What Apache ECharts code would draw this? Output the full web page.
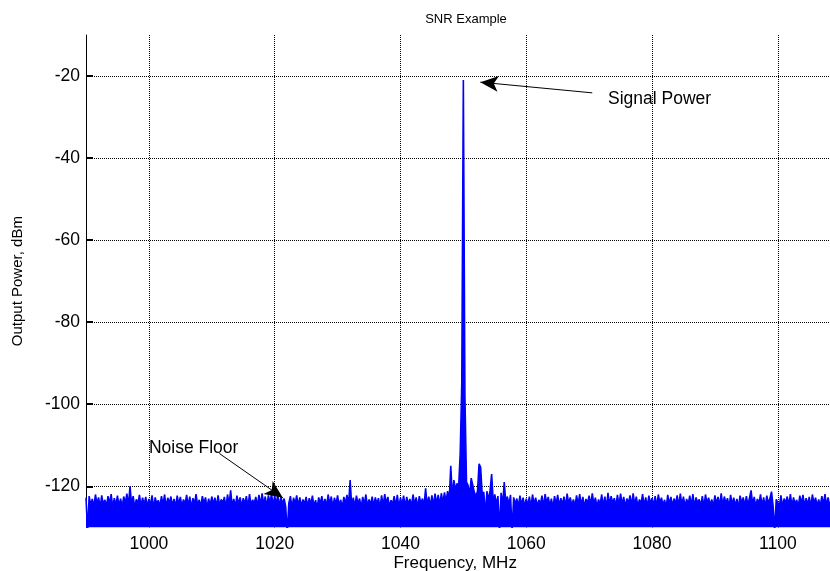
<!DOCTYPE html>
<html>
<head>
<meta charset="utf-8">
<title>SNR Example</title>
<script src="https://cdn.jsdelivr.net/npm/echarts@6/dist/echarts.min.js"></script>
<style>
  html, body { margin: 0; padding: 0; background: #ffffff; }
  #chart { width: 830px; height: 571px; }
</style>
</head>
<body>
<div id="chart"></div>
<script>
// Spectrum bins: first bin frequency and bin spacing (MHz)
const freqStart = 990;
const freqStep = 0.25;

// Measured output power per bin (dBm), 20 bins (5 MHz) per row
const powerDbm = [
  -122.8, -131.0, -122.4, -124.6, -123.1, -125.0, -122.0, -124.3, -122.7, -125.2, -122.2, -124.5, -123.3, -124.9, -122.4, -124.2, -121.9, -125.1, -122.9, -124.6,
  -122.3, -124.8, -123.0, -125.0, -122.5, -124.1, -121.8, -124.7, -120.0, -124.4, -122.4, -125.2, -123.2, -124.2, -122.1, -124.9, -122.8, -124.5, -122.6, -125.0,
  -123.1, -124.6, -122.2, -125.3, -122.7, -124.3, -123.4, -125.0, -122.4, -124.4, -122.0, -125.1, -122.8, -124.1, -122.5, -124.8, -123.1, -125.1, -122.3, -124.5,
  -122.6, -124.9, -123.2, -124.4, -122.1, -124.8, -122.5, -125.3, -122.9, -124.3, -121.9, -124.7, -123.3, -125.0, -122.4, -124.2, -122.7, -125.2, -123.0, -124.6,
  -122.5, -124.4, -122.8, -125.0, -122.2, -124.8, -123.2, -124.1, -122.6, -125.2, -122.0, -124.4, -121.0, -124.9, -123.1, -125.0, -122.3, -124.5, -122.7, -124.9,
  -122.9, -124.3, -122.4, -125.1, -121.9, -124.7, -123.3, -124.2, -122.6, -124.9, -122.1, -124.6, -121.7, -124.4, -122.5, -125.0, -122.2, -124.1, -121.8, -124.8,
  -122.3, -124.5, -121.9, -125.1, -122.6, -124.4, -123.0, -124.9, -131.5, -124.1, -122.4, -125.2, -122.8, -124.3, -122.2, -124.8, -122.7, -124.9, -123.2, -124.4,
  -122.6, -125.0, -122.9, -124.4, -122.3, -124.9, -123.4, -125.3, -122.7, -124.2, -122.4, -124.7, -123.1, -124.9, -122.0, -124.4, -122.5, -125.1, -122.8, -124.5,
  -122.2, -124.8, -123.3, -125.2, -122.6, -124.1, -122.1, -124.6, -118.5, -124.9, -122.8, -125.0, -122.3, -124.3, -123.0, -125.2, -122.6, -124.4, -122.0, -124.9,
  -123.2, -124.5, -122.5, -124.9, -122.7, -124.3, -122.9, -125.3, -122.2, -124.7, -121.9, -124.2, -122.6, -125.0, -123.4, -124.4, -122.4, -124.9, -122.1, -125.1,
  -122.8, -124.6, -122.3, -125.0, -122.6, -124.4, -123.1, -124.9, -122.0, -124.5, -122.7, -125.2, -122.4, -124.3, -123.0, -124.8, -120.5, -124.7, -122.5, -124.9,
  -122.2, -124.8, -121.8, -124.3, -122.1, -124.6, -121.7, -124.0, -121.5, -123.8, -121.2, -123.6, -115.0, -122.6, -118.5, -120.8, -119.3, -120.2, -112.0, -95.0,
  -21.0, -98.0, -119.0, -119.8, -122.0, -118.0, -117.6, -121.5, -122.4, -121.2, -114.5, -115.4, -122.0, -121.4, -127.0, -121.2, -123.4, -121.0, -117.0, -123.8,
  -122.0, -124.4, -122.4, -131.0, -121.6, -124.6, -119.0, -123.9, -122.5, -124.6, -122.1, -131.0, -122.7, -124.4, -123.0, -124.9, -122.3, -124.6, -122.8, -125.0,
  -123.0, -124.7, -122.5, -125.1, -122.0, -124.3, -122.8, -124.9, -123.3, -124.4, -122.3, -125.0, -121.9, -124.1, -122.6, -124.8, -123.0, -125.2, -122.4, -124.4,
  -122.1, -124.9, -122.9, -124.5, -122.5, -125.0, -121.8, -124.2, -122.7, -124.7, -123.2, -124.9, -122.2, -124.4, -121.9, -124.8, -122.6, -125.1, -123.1, -124.1,
  -122.3, -124.6, -121.7, -124.3, -122.8, -125.0, -123.2, -124.5, -122.0, -124.9, -122.5, -125.2, -121.6, -124.4, -122.4, -124.1, -122.9, -124.9, -122.1, -124.7,
  -121.8, -124.4, -122.6, -125.0, -123.0, -124.2, -122.2, -124.8, -121.7, -124.5, -122.5, -124.9, -123.2, -124.3, -121.9, -124.8, -122.7, -125.1, -122.3, -124.3,
  -122.9, -124.7, -122.4, -125.0, -122.0, -124.1, -122.8, -124.6, -123.3, -125.2, -122.1, -124.4, -122.6, -124.8, -123.0, -124.3, -122.2, -124.9, -121.8, -124.5,
  -122.5, -125.0, -123.1, -124.4, -122.3, -124.8, -121.9, -125.0, -122.7, -124.1, -123.2, -124.7, -122.4, -125.1, -122.0, -124.2, -122.8, -124.6, -123.2, -124.9,
  -122.2, -124.3, -122.6, -124.9, -121.7, -124.7, -122.5, -124.2, -122.9, -125.0, -122.1, -124.5, -122.8, -124.8, -123.1, -125.2, -122.3, -124.1, -122.7, -124.8,
  -122.4, -124.6, -124.2, -121.0, -124.4, -122.6, -125.0, -123.1, -124.3, -122.0, -124.8, -122.7, -125.1, -122.3, -124.2, -122.9, -121.3, -124.7, -131.0, -123.2,
  -122.8, -124.8, -122.2, -125.1, -123.0, -124.1, -122.5, -124.7, -121.9, -124.9, -122.7, -124.4, -123.3, -125.0, -122.3, -124.3, -122.1, -124.9, -122.9, -124.5,
  -122.6, -125.1, -122.0, -124.2, -122.8, -124.8, -123.2, -124.9, -122.4, -124.4, -121.9, -124.7, -122.7, -125.0, -123.1, -124.2, -122.3, -124.8, -122.5, -124.6,
  -122.8
];

// Axis ranges and tick labels
const freqRange = [990, 1108.3];
const powerRange = [-130, -10];
const freqTicks = [1000, 1020, 1040, 1060, 1080, 1100];
const powerTicks = [-120, -100, -80, -60, -40, -20];

// Annotations: text, text anchor, arrow tail, arrow head (data coordinates)
const notes = [
  { text: 'Signal Power', at: [1073.0, -25.7], tail: [1070.5, -24.1], head: [1052.7, -21.5] },
  { text: 'Noise Floor',  at: [1000.0, -110.8], tail: [1011.2, -112.0], head: [1021.3, -122.8] }
];

const spectrum = powerDbm.map((p, i) => [freqStart + i * freqStep, p]);

const FONT = '"Liberation Sans", Arial, Helvetica, sans-serif';
const gridLine = { show: true, lineStyle: { color: '#000000', width: 1, type: [1, 1] } };

const chart = echarts.init(document.getElementById('chart'), null, { renderer: 'canvas' });

chart.setOption({
  animation: false,
  backgroundColor: '#ffffff',
  title: {
    text: 'SNR Example',
    left: 461,
    top: 8,
    textAlign: 'center',
    textStyle: { fontFamily: FONT, fontSize: 13, fontWeight: 'normal', color: '#000000' }
  },
  grid: { left: 86, top: 35, right: 0, height: 492.3, containLabel: false },
  xAxis: {
    type: 'value',
    min: freqRange[0],
    max: freqRange[1],
    axisLine: { show: false },
    axisTick: { show: true, inside: true, length: 6, customValues: freqTicks, lineStyle: { color: '#000' } },
    axisLabel: {
      customValues: freqTicks, margin: 8, color: '#000', fontFamily: FONT, fontSize: 17.5,
      formatter: v => String(v)
    },
    splitLine: gridLine
  },
  yAxis: {
    type: 'value',
    min: powerRange[0],
    max: powerRange[1],
    axisLine: { show: true, onZero: false, lineStyle: { color: '#000000', width: 1 } },
    axisTick: { show: true, inside: true, length: 7, customValues: powerTicks, lineStyle: { color: '#000', width: 2 } },
    axisLabel: { customValues: powerTicks, margin: 6, color: '#000', fontFamily: FONT, fontSize: 17.5 },
    splitLine: gridLine
  },
  series: [{
    type: 'line',
    data: spectrum,
    symbol: 'none',
    sampling: null,
    clip: true,
    lineStyle: { color: '#0000ff', width: 1.6 },
    areaStyle: { color: '#0000ff', opacity: 1, origin: 'start' },
    z: 2,
    markLine: {
      silent: true,
      symbol: ['none', 'arrow'],
      symbolSize: [12, 18],
      label: { show: false },
      lineStyle: { color: '#000000', width: 1, type: 'solid' },
      data: notes.map(n => [{ coord: n.tail }, { coord: n.head }])
    }
  }]
});

// Annotation texts and axis titles placed from axis coordinates
const texts = notes.map(n => {
  const p = chart.convertToPixel({ gridIndex: 0 }, n.at);
  return {
    type: 'text', x: p[0], y: p[1], z: 10,
    style: { text: n.text, fill: '#000', font: '17.5px ' + FONT, textAlign: 'left', textVerticalAlign: 'middle' }
  };
});
const xMid = chart.convertToPixel({ gridIndex: 0 }, [1048.7, -130])[0];
texts.push({
  type: 'text', x: xMid, y: 563, z: 10,
  style: { text: 'Frequency, MHz', fill: '#000', font: '17px ' + FONT, textAlign: 'center', textVerticalAlign: 'middle' }
});
const yMid = chart.convertToPixel({ gridIndex: 0 }, [990, -70])[1];
texts.push({
  type: 'text', x: 18, y: yMid, rotation: Math.PI / 2, z: 10,
  style: { text: 'Output Power, dBm', fill: '#000', font: '15px ' + FONT, textAlign: 'center', textVerticalAlign: 'middle' }
});
chart.setOption({ graphic: texts });
</script>
</body>
</html>
